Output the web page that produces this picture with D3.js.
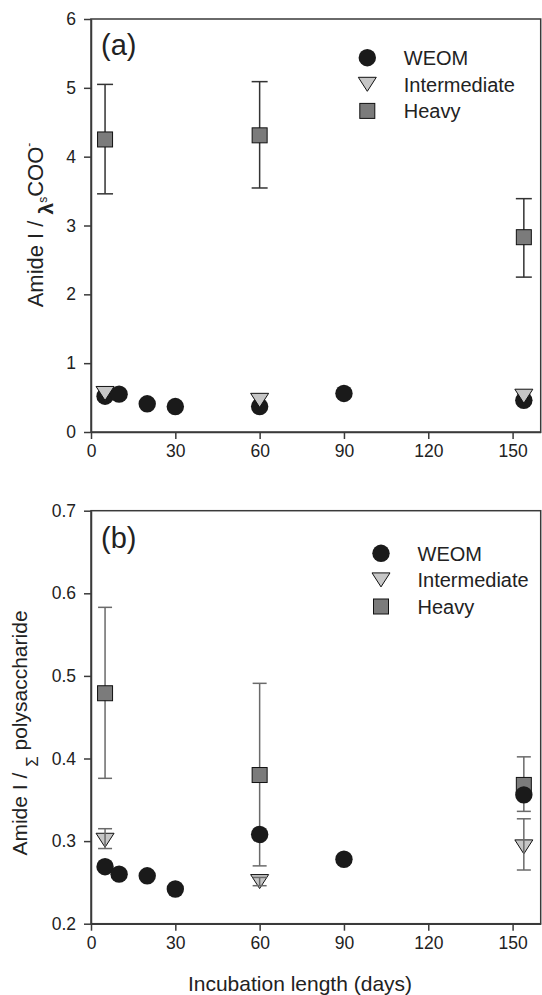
<!DOCTYPE html>
<html>
<head>
<meta charset="utf-8">
<script src="https://cdn.jsdelivr.net/npm/d3@7"></script>
<style>
  body { margin: 0; background: #fff; }
  svg { display: block; font-family: "Liberation Sans", Arial, sans-serif; }
  .tick text { fill: #222; }
</style>
</head>
<body>
<svg width="542" height="995"></svg>
<script>
// incubation days
let days = [5, 10, 20, 30, 60, 90, 154];
let fracDays = [5, 60, 154];

// panel (a): Amide I / vsCOO-
let weomA = [0.52, 0.55, 0.41, 0.37, 0.37, 0.56, 0.46];
let interA = [0.56, 0.46, 0.52];
let heavyA = [4.25, 4.31, 2.83];
let heavyAHi = [5.05, 5.09, 3.39];
let heavyALo = [3.46, 3.545, 2.25];

// panel (b): Amide I / sum polysaccharide
let weomB = [0.269, 0.260, 0.258, 0.242, 0.308, 0.278, 0.356];
let interB = [0.301, 0.251, 0.293];
let interBHi = [0.315, 0.256, 0.327];
let interBLo = [0.291, 0.246, 0.265];
let heavyB = [0.479, 0.380, 0.368];
let heavyBHi = [0.583, 0.491, 0.402];
let heavyBLo = [0.376, 0.270, 0.336];

let xTicks = [0, 30, 60, 90, 120, 150];
let yTicksA = [0, 1, 2, 3, 4, 5, 6];
let yTicksB = [0.2, 0.3, 0.4, 0.5, 0.6, 0.7];
let seriesNames = ["WEOM", "Intermediate", "Heavy"];

let svg = d3.select("svg");

function triangle(cx, cy) {
    return `M${cx - 9},${cy - 7}L${cx + 9},${cy - 7}L${cx},${cy + 7}Z`;
}

function errorBar(g, cx, hi, lo, capW, color) {
    g.append("line").attr("x1", cx).attr("x2", cx)
        .attr("y1", hi).attr("y2", lo)
        .attr("stroke", color).attr("stroke-width", 1.5);
    [hi, lo].forEach(v => {
        g.append("line").attr("x1", cx - capW / 2).attr("x2", cx + capW / 2)
            .attr("y1", v).attr("y2", v)
            .attr("stroke", color).attr("stroke-width", 1.5);
    });
}

function drawPanel(opt) {
    let x = d3.scaleLinear().domain([0, 160]).range([91, 540.7]);
    let y = d3.scaleLinear().domain(opt.yDomain).range(opt.yRange);
    let g = svg.append("g");

    // frame
    g.append("rect")
        .attr("x", x(0)).attr("y", y.range()[1])
        .attr("width", x(160) - x(0)).attr("height", y.range()[0] - y.range()[1])
        .attr("fill", "none").attr("stroke", "#3a3a3a").attr("stroke-width", 1.5);

    let xAxis = g.append("g")
        .attr("transform", `translate(0,${y.range()[0]})`)
        .call(d3.axisBottom(x).tickValues(xTicks).tickSize(7).tickSizeOuter(0).tickPadding(6));
    let yAxis = g.append("g")
        .attr("transform", `translate(${x(0)},0)`)
        .call(d3.axisLeft(y).tickValues(opt.yTicks).tickFormat(opt.fmt).tickSize(7).tickSizeOuter(0).tickPadding(8));
    [xAxis, yAxis].forEach(a => {
        a.select(".domain").attr("stroke", "#3a3a3a").attr("stroke-width", 1.5);
        a.selectAll(".tick line").attr("stroke", "#3a3a3a").attr("stroke-width", 1.5);
        a.selectAll(".tick text").attr("font-size", 17.5).attr("font-family", "Liberation Sans, Arial, sans-serif");
    });

    // panel letter
    g.append("text").attr("x", 101).attr("y", opt.letterY)
        .attr("font-size", 29).attr("fill", "#222").text(opt.letter);

    // heavy error bars + squares
    fracDays.forEach((d, i) => {
        errorBar(g, x(d), y(opt.heavyHi[i]), y(opt.heavyLo[i]), opt.capW, opt.errColor);
    });
    g.selectAll(".heavy").data(opt.heavy).enter().append("rect")
        .attr("x", (d, i) => x(fracDays[i]) - 7.5)
        .attr("y", d => y(d) - 7.5)
        .attr("width", 15).attr("height", 15)
        .attr("fill", "#7b7b7b").attr("stroke", "#111").attr("stroke-width", 1);

    // WEOM circles
    g.selectAll(".weom").data(opt.weom).enter().append("circle")
        .attr("cx", (d, i) => x(days[i]))
        .attr("cy", d => y(d))
        .attr("r", 8.7)
        .attr("fill", "#1a1a1a");

    // intermediate triangles
    g.selectAll(".inter").data(opt.inter).enter().append("path")
        .attr("d", (d, i) => triangle(x(fracDays[i]), y(d)))
        .attr("fill", "#c6c6c6").attr("stroke", "#111").attr("stroke-width", 1);
    if (opt.interHi) {
        fracDays.forEach((d, i) => {
            errorBar(g, x(d), y(opt.interHi[i]), y(opt.interLo[i]), opt.capW, opt.errColor);
        });
    }

    // legend
    let lx = opt.legend[0], ly = opt.legend[1], step = 26.6;
    g.append("circle").attr("cx", lx).attr("cy", ly).attr("r", 8.7).attr("fill", "#1a1a1a");
    g.append("path").attr("d", triangle(lx, ly + step))
        .attr("fill", "#c6c6c6").attr("stroke", "#111").attr("stroke-width", 1);
    g.append("rect").attr("x", lx - 7.5).attr("y", ly + 2 * step - 7.5)
        .attr("width", 15).attr("height", 15)
        .attr("fill", "#7b7b7b").attr("stroke", "#111").attr("stroke-width", 1);
    seriesNames.forEach((name, i) => {
        g.append("text").attr("x", lx + 36.5).attr("y", ly + i * step + 7.5)
            .attr("font-size", 20).attr("fill", "#222").text(name);
    });

    // y label
    let yl = g.append("text")
        .attr("transform", `translate(${opt.yLabelX},${opt.yLabelY}) rotate(-90)`)
        .attr("text-anchor", "middle").attr("font-size", opt.yLabelSize).attr("fill", "#222");
    opt.yLabel(yl);
    return { x, y };
}

drawPanel({
    yDomain: [0, 6], yRange: [432, 19], yTicks: yTicksA, fmt: d3.format("d"),
    letter: "(a)", letterY: 55,
    weom: weomA, inter: interA, heavy: heavyA, heavyHi: heavyAHi, heavyLo: heavyALo,
    errColor: "#333", capW: 16,
    legend: [367.3, 57.7],
    yLabelX: 43, yLabelY: 225, yLabelSize: 22,
    yLabel: t => {
        t.append("tspan").text("Amide I / ");
        t.append("tspan").attr("font-size", 21).attr("font-weight", "bold").attr("dy", 10).text("λ");
        t.append("tspan").attr("font-size", 12).attr("dy", -6).text("s");
        t.append("tspan").attr("dy", -4).text("COO");
        t.append("tspan").attr("font-size", 12).attr("dy", -10).text("-");
    }
});

drawPanel({
    yDomain: [0.2, 0.7], yRange: [923.7, 510.7], yTicks: yTicksB, fmt: d3.format(".1f"),
    letter: "(b)", letterY: 548,
    weom: weomB, inter: interB, interHi: interBHi, interLo: interBLo,
    heavy: heavyB, heavyHi: heavyBHi, heavyLo: heavyBLo,
    errColor: "#6a6a6a", capW: 14,
    legend: [381, 553.3],
    yLabelX: 26.5, yLabelY: 733, yLabelSize: 21,
    yLabel: t => {
        t.append("tspan").text("Amide I / ");
        t.append("tspan").attr("font-size", 17).attr("dy", 11).text("Σ");
        t.append("tspan").attr("dy", -11).text(" polysaccharide");
    }
});

// x axis title
svg.append("text").attr("x", 300).attr("y", 991)
    .attr("text-anchor", "middle").attr("font-size", 21).attr("fill", "#222")
    .text("Incubation length (days)");
</script>
</body>
</html>
